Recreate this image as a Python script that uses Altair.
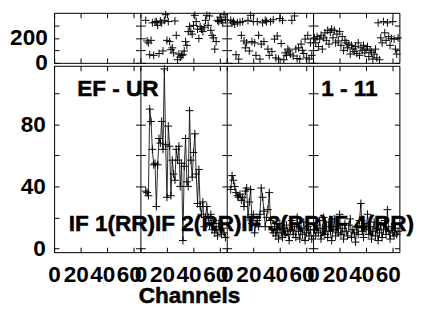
import altair as alt
import pandas as pd

# ---------------- data ----------------
if_names = ["IF 1(RR)", "IF 2(RR)", "IF 3(RR)", "IF 4(RR)"]
baseline_label = "EF - UR"
time_label = "1 - 11"
x_title = "Channels"
chan_span = 65          # channel axis span of one IF panel

amp_ticks = [0, 20, 40, 60, 80, 100]
phase_ticks = [0, 100, 200, 300]
phase_labels = [0, 200]
chan_ticks = [0, 20, 40, 60]

# IF 1: no data plotted
if1_start = 1
if1_amp = []
if1_phase = []

if2_start = 4
if2_amp = [37, 36, 34, 90, 82, 64, 54, 55, 27, 54,
           71, 68, 82, 64, 116, 67, 33, 79, 66, 34,
           57, 48, 44, 64, 57, 66, 40, 55, 5, 53,
           71, 43, 40, 89, 57, 46, 62, 74, 48, 29,
           51, 27, 22, 30, 14, 20, 27, 20, 15, 22,
           12, 18, 10, 14, 8, 16, 12, 9, 13, 10, 7]
if2_phase = [340, 175, 160, 65, 180, 320, 60, 325, 330, 300,
             75, 335, 320, 95, 340, 385, 180, 330, 170, 105,
             120, 80, 335, 220, 25, 70, 45, 60, 65, 95,
             170, 140, 250, 290, 250, 230, 300, 380, 330, 270,
             195, 290, 270, 250, 285, 340, 380, 300, 375, 260,
             220, 200, 110, 170, 340, 330, 365, 340, 320, 385, 345]

if3_start = 3
if3_amp = [38, 47, 44, 40, 36, 34, 33, 35, 31, 33,
           27, 37, 39, 20, 30, 38, 16, 22, 10, 16,
           18, 14, 22, 39, 33, 24, 14, 20, 25, 36,
           18, 12, 10, 14, 8, 12, 6, 16, 10, 7,
           13, 9, 15, 11, 5, 12, 18, 9, 14, 7,
           20, 11, 6, 13, 9, 17, 5, 10, 14, 8, 12, 6]
if3_phase = [340, 320, 330, 310, 65, 320, 30, 325, 220, 330,
             175, 120, 160, 340, 95, 380, 170, 330, 160, 60,
             330, 220, 30, 150, 320, 170, 340, 330, 110, 60,
             330, 90, 345, 190, 40, 215, 30, 355, 155, 340,
             25, 80, 60, 110, 95, 70, 340, 55, 375, 110,
             35, 120, 30, 150, 100, 75, 190, 40, 220, 30, 160, 60]

if4_start = 1
if4_amp = [12, 8, 15, 10, 18, 6, 13, 20, 9, 14,
           7, 17, 11, 5, 12, 19, 8, 14, 10, 22,
           9, 13, 6, 16, 11, 8, 15, 19, 7, 12,
           10, 4, 14, 9, 18, 29, 11, 7, 16, 12,
           22, 9, 14, 6, 11, 17, 8, 13, 5, 10,
           15, 7, 12, 18, 9, 25, 11, 6, 14, 10, 8, 13, 9, 11]
if4_phase = [200, 160, 210, 130, 190, 220, 110, 200, 240, 180,
             260, 150, 245, 270, 200, 260, 160, 230, 175, 250,
             140, 210, 100, 180, 160, 120, 150, 70, 140, 110,
             90, 130, 75, 160, 60, 120, 100, 140, 80, 110,
             130, 50, 100, 85, 30, 70, 110, 40, 320, 25,
             200, 160, 330, 240, 180, 320, 210, 140, 195, 330,
             190, 110, 70, 200]

# ---------------- table ----------------
rows = []
for i, (start, amps, phs) in enumerate([(if1_start, if1_amp, if1_phase),
                                        (if2_start, if2_amp, if2_phase),
                                        (if3_start, if3_amp, if3_phase),
                                        (if4_start, if4_amp, if4_phase)]):
    for k, (a, p) in enumerate(zip(amps, phs)):
        ch = start + k
        rows.append({"IF": if_names[i], "chan": ch, "gx": i * chan_span + ch,
                     "amp": a, "phase": p})
df = pd.DataFrame(rows)

lab_df = pd.DataFrame({"IF": if_names,
                       "gx": [i * chan_span + 11 for i in range(len(if_names))]})

# ---------------- layout (pixels) ----------------
W, H = 352, 244
PANEL = W / 4
FONT = "Liberation Sans"
FS = 23

xscale = alt.Scale(domain=[0, 4 * chan_span], nice=False, zero=False)
pscale = alt.Scale(domain=[0, 400], range=[51, 0], nice=False, zero=False)
ascale = alt.Scale(domain=[-2.5, 118], range=[H, 54], nice=False, zero=False)

xvals = [p * chan_span + t for p in range(4) for t in chan_ticks]


def axis(orient, at, values, labels=False, ticks=True, domain=False, **kw):
    # 'at' is the pixel coordinate (perpendicular to the axis) of the axis line
    if orient == "left":
        off = -at
    elif orient == "right":
        off = at - W
    elif orient == "bottom":
        off = at - H
    else:  # top
        off = -at
    return alt.Axis(orient=orient, offset=off, values=values,
                    labels=labels, ticks=ticks, tickSize=5 if ticks else 0,
                    domain=domain, grid=False, title=None,
                    domainColor="black", tickColor="black",
                    domainWidth=1, tickWidth=1,
                    labelFont=FONT, labelFontSize=FS, labelFontWeight="bold",
                    labelColor="black", **kw)


plus = "M-1,0L1,0M0,-1L0,1"


def ghost(field, yscale, yaxis, xaxis=None):
    return alt.Chart(df).mark_point(opacity=0).encode(
        x=alt.X("gx:Q", scale=xscale, axis=xaxis),
        y=alt.Y(f"{field}:Q", scale=yscale, axis=yaxis))


layers = []

# ---- phase panel ----
layers.append(alt.Chart(df).mark_point(shape=plus, filled=False, color="black",
                                       strokeWidth=1, size=64, opacity=1).encode(
    x=alt.X("gx:Q", scale=xscale,
            axis=axis("bottom", 0, xvals, domain=True)),
    y=alt.Y("phase:Q", scale=pscale,
            axis=axis("left", 0, phase_labels, labels=True, ticks=False,
                      domain=True, labelPadding=7))))
layers.append(ghost("phase", pscale, axis("right", 0, phase_ticks),
                    axis("top", 51, xvals, domain=True)))
for j in range(1, 4):
    layers.append(ghost("phase", pscale, axis("left", PANEL * j, phase_ticks, domain=True)))
    layers.append(ghost("phase", pscale, axis("right", PANEL * j, phase_ticks)))
layers.append(ghost("phase", pscale, axis("left", W, phase_ticks, domain=True)))

# ---- amplitude panel ----
layers.append(alt.Chart(df).mark_line(color="#111111", strokeWidth=0.9).encode(
    x=alt.X("gx:Q", scale=xscale,
            axis=axis("bottom", H, xvals, labels=True, ticks=False, domain=True,
                      labelExpr="format(datum.value % 65, 'd')",
                      labelOverlap=False, labelFlush=False, labelBound=False,
                      labelPadding=12,
                      labelOffset={"condition": {"test": "datum.value % 65 == 0",
                                                 "value": 0}, "value": -5})),
    y=alt.Y("amp:Q", scale=ascale,
            axis=axis("left", 0, amp_ticks, labels=True, ticks=False, domain=True,
                      labelPadding=9,
                      labelExpr="datum.value % 40 == 0 ? datum.label : ''")),
    detail="IF:N"))
layers.append(alt.Chart(df).mark_point(shape=plus, filled=False, color="black",
                                       strokeWidth=1, size=64, opacity=1).encode(
    x=alt.X("gx:Q", scale=xscale, axis=axis("top", H, xvals)),
    y=alt.Y("amp:Q", scale=ascale, axis=axis("right", 0, amp_ticks))))
layers.append(ghost("amp", ascale, axis("left", PANEL, amp_ticks, domain=True),
                    axis("bottom", 54, xvals, domain=True)))
layers.append(ghost("amp", ascale, axis("right", PANEL, amp_ticks)))
for j in range(2, 4):
    layers.append(ghost("amp", ascale, axis("left", PANEL * j, amp_ticks, domain=True)))
    layers.append(ghost("amp", ascale, axis("right", PANEL * j, amp_ticks)))
layers.append(ghost("amp", ascale, axis("left", W, amp_ticks, domain=True)))

# ---- text ----
txt = dict(font=FONT, fontSize=FS, fontWeight="bold", color="black",
           stroke="black", strokeWidth=0.5)
layers.append(alt.Chart(lab_df).mark_text(align="left", baseline="middle", **txt).encode(
    x=alt.X("gx:Q", scale=xscale, axis=None),
    y=alt.value(215),
    text="IF:N"))
layers.append(alt.Chart(pd.DataFrame({"t": [baseline_label]})).mark_text(
    align="center", baseline="middle", **txt).encode(
    x=alt.value(65), y=alt.value(78), text="t:N"))
layers.append(alt.Chart(pd.DataFrame({"t": [time_label]})).mark_text(
    align="center", baseline="middle", **txt).encode(
    x=alt.value(301), y=alt.value(78), text="t:N"))
layers.append(alt.Chart(pd.DataFrame({"t": [x_title]})).mark_text(
    align="center", baseline="alphabetic", **txt).encode(
    x=alt.value(138), y=alt.value(296), text="t:N"))

chart = alt.layer(*layers).resolve_scale(y="independent").resolve_axis(
    x="independent", y="independent").properties(
    width=W, height=H,
    autosize=alt.AutoSizeParams(type="none"),
    padding={"left": 47, "top": 2, "right": 20, "bottom": 55},
).configure_view(stroke=None).configure(background="white")

chart.save("out.html", embed_options={"renderer": "svg", "actions": False})
